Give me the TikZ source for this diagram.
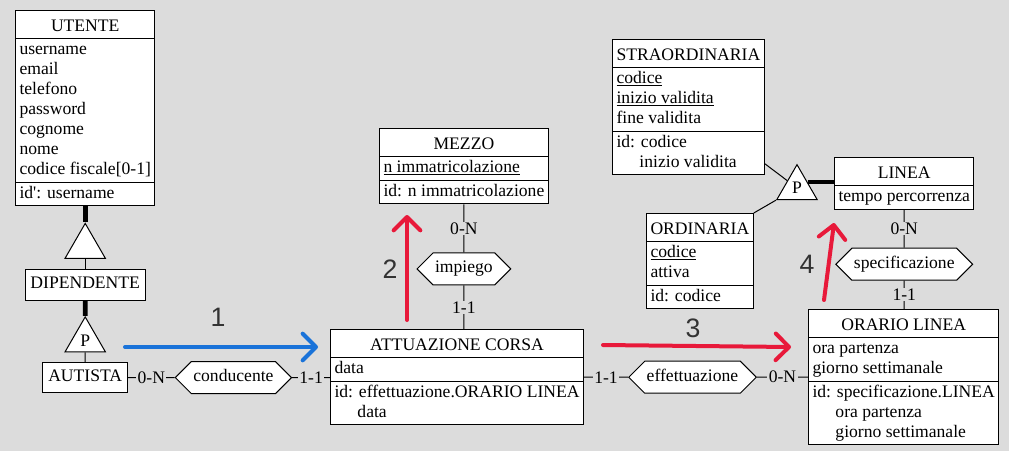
\documentclass[tikz,border=0pt]{standalone}
\usepackage{fontspec}
\setmainfont{Liberation Serif}
\newfontfamily\stepfont{Liberation Sans}
\usetikzlibrary{arrows.meta,positioning,shapes.multipart,shapes.geometric,shapes.symbols}

\definecolor{bggray}{HTML}{DCDCDC}
\definecolor{flowblue}{HTML}{1A73D9}
\definecolor{flowred}{HTML}{E8193A}

\newcommand{\hstrut}{\rule[-3.8pt]{0pt}{18.3pt}}
\newcommand{\ind}{\phantom{id:\ }}

\tikzset{
  entity/.style={draw,fill=white,line width=0.75pt,rectangle split,
    rectangle split parts=3,rectangle split part align={center,left,left},
    align=left,inner xsep=3pt,inner ysep=1pt,anchor=north west},
  single/.style={draw,fill=white,line width=0.75pt,inner xsep=4pt,inner ysep=4pt},
  relation/.style={draw,fill=white,line width=0.75pt,signal,
    signal to=west and east,inner xsep=1.5pt,inner ysep=4.5pt},
  isa/.style={draw,fill=white,line width=0.75pt,regular polygon,
    regular polygon sides=3,minimum size=35pt,inner sep=0pt},
  card/.style={fill=bggray,inner xsep=1pt,inner ysep=0.5pt},
  link/.style={line width=0.75pt},
  isalink/.style={line width=3.6pt},
  flow/.style={line width=3pt,line cap=round,
    -{Straight Barb[length=10pt,width=20pt,round]}},
  steplabel/.style={font=\stepfont\fontsize{20}{24}\selectfont,text=black!80}
}

\begin{document}
\begin{tikzpicture}[x=0.75pt,y=-0.75pt,
    every node/.style={font=\fontsize{13.2}{15}\selectfont}]
  \fill[bggray] (0,0) rectangle (1009,451);
  \useasboundingbox (0,0) rectangle (1009,451);

  % entities
  \node[entity] (utente) at (15,10) {\hstrut UTENTE
    \nodepart{two}\strut username\\email\\telefono\\password\\cognome\\nome\\codice fiscale[0-1]\strut
    \nodepart{three}\strut id\textquotesingle: username};
  \node[entity] (mezzo) at (379,128) {\hstrut MEZZO
    \nodepart{two}\strut\underline{n immatricolazione}
    \nodepart{three}\strut id: n immatricolazione};
  \node[entity] (attuazione) at (330,329) {\hstrut ATTUAZIONE CORSA
    \nodepart{two}\strut data
    \nodepart{three}\strut id: effettuazione.ORARIO LINEA\\\ind data\strut};
  \node[entity] (straord) at (612,39) {\hstrut STRAORDINARIA
    \nodepart{two}\strut\underline{codice}\\\underline{inizio validita}\\fine validita\strut
    \nodepart{three}\strut id: codice\\\ind inizio validita\strut};
  \node[entity] (ordin) at (646,213) {\hstrut ORDINARIA
    \nodepart{two}\strut\underline{codice}\\attiva\strut
    \nodepart{three}\strut id: codice};
  \node[entity,rectangle split parts=2] (linea) at (834,157) {\hstrut LINEA
    \nodepart{two}\strut tempo percorrenza};
  \node[entity] (orario) at (808,309) {\hstrut ORARIO LINEA
    \nodepart{two}\strut ora partenza\\giorno settimanale\strut
    \nodepart{three}\strut id: specificazione.LINEA\\\ind ora partenza\\\ind giorno settimanale\strut};

  % generalizations
  \node[isa,below=12pt of utente] (isautente) {};
  \node[single,below=7.5pt of isautente] (dipendente) {\strut DIPENDENTE};
  \node[isa,below=11.5pt of dipendente] (isadip) {P};
  \node[single,below=7pt of isadip] (autista) {\strut AUTISTA};
  \node[isa] (isalinea) at (797,188) {P};

  % relationships
  \node[relation,right=35pt of autista] (conducente) {\strut conducente};
  \node[relation,below=36pt of mezzo] (impiego) {\strut impiego};
  \node[relation,right=33pt of attuazione] (effettuazione) {\strut effettuazione};
  \node[relation,below=28.5pt of linea] (specificazione) {\strut specificazione};

  \draw[isalink] (utente) -- (isautente);
  \draw[link] (isautente) -- (dipendente);
  \draw[isalink] (dipendente) -- (isadip);
  \draw[link] (isadip) -- (autista);
  \draw[isalink] (isalinea.side 3) -- (isalinea.side 3 -| linea.west);
  \draw[link] (straord.east |- isalinea.north) -- (isalinea);
  \draw[link] (ordin.north east) -- (isalinea);

  \draw[link] (autista) -- node[card]{0-N} (conducente);
  \draw[link] (conducente) -- node[card]{1-1} (conducente -| attuazione.west);
  \draw[link] (mezzo) -- node[card]{0-N} (impiego);
  \draw[link] (impiego) -- node[card]{1-1} (impiego |- attuazione.north);
  \draw[link] (attuazione) -- node[card]{1-1} (effettuazione);
  \draw[link] (effettuazione) -- node[card]{0-N} (effettuazione -| orario.west);
  \draw[link] (linea) -- node[card]{0-N} (specificazione);
  \draw[link] (specificazione) -- node[card]{1-1} (specificazione |- orario.north);

  % numbered steps
  \coordinate (f1a) at (125,347); \coordinate (f1b) at (318,347);
  \coordinate (f2a) at (407,320); \coordinate (f2b) at (407,215);
  \coordinate (f3a) at (603,345); \coordinate (f3b) at (791,347);
  \coordinate (f4a) at (824,300); \coordinate (f4b) at (834,223);
  \draw[flow,flowblue] (f1a) -- (f1b);
  \draw[flow,flowred] (f2a) -- (f2b);
  \draw[flow,flowred] (f3a) -- (f3b);
  \draw[flow,flowred] (f4a) -- (f4b);
  \node[steplabel] (s1) at (218,317) {1};
  \node[steplabel] (s2) at (390,269) {2};
  \node[steplabel] (s3) at (693,328) {3};
  \node[steplabel] (s4) at (807,264) {4};
\end{tikzpicture}
\end{document}
